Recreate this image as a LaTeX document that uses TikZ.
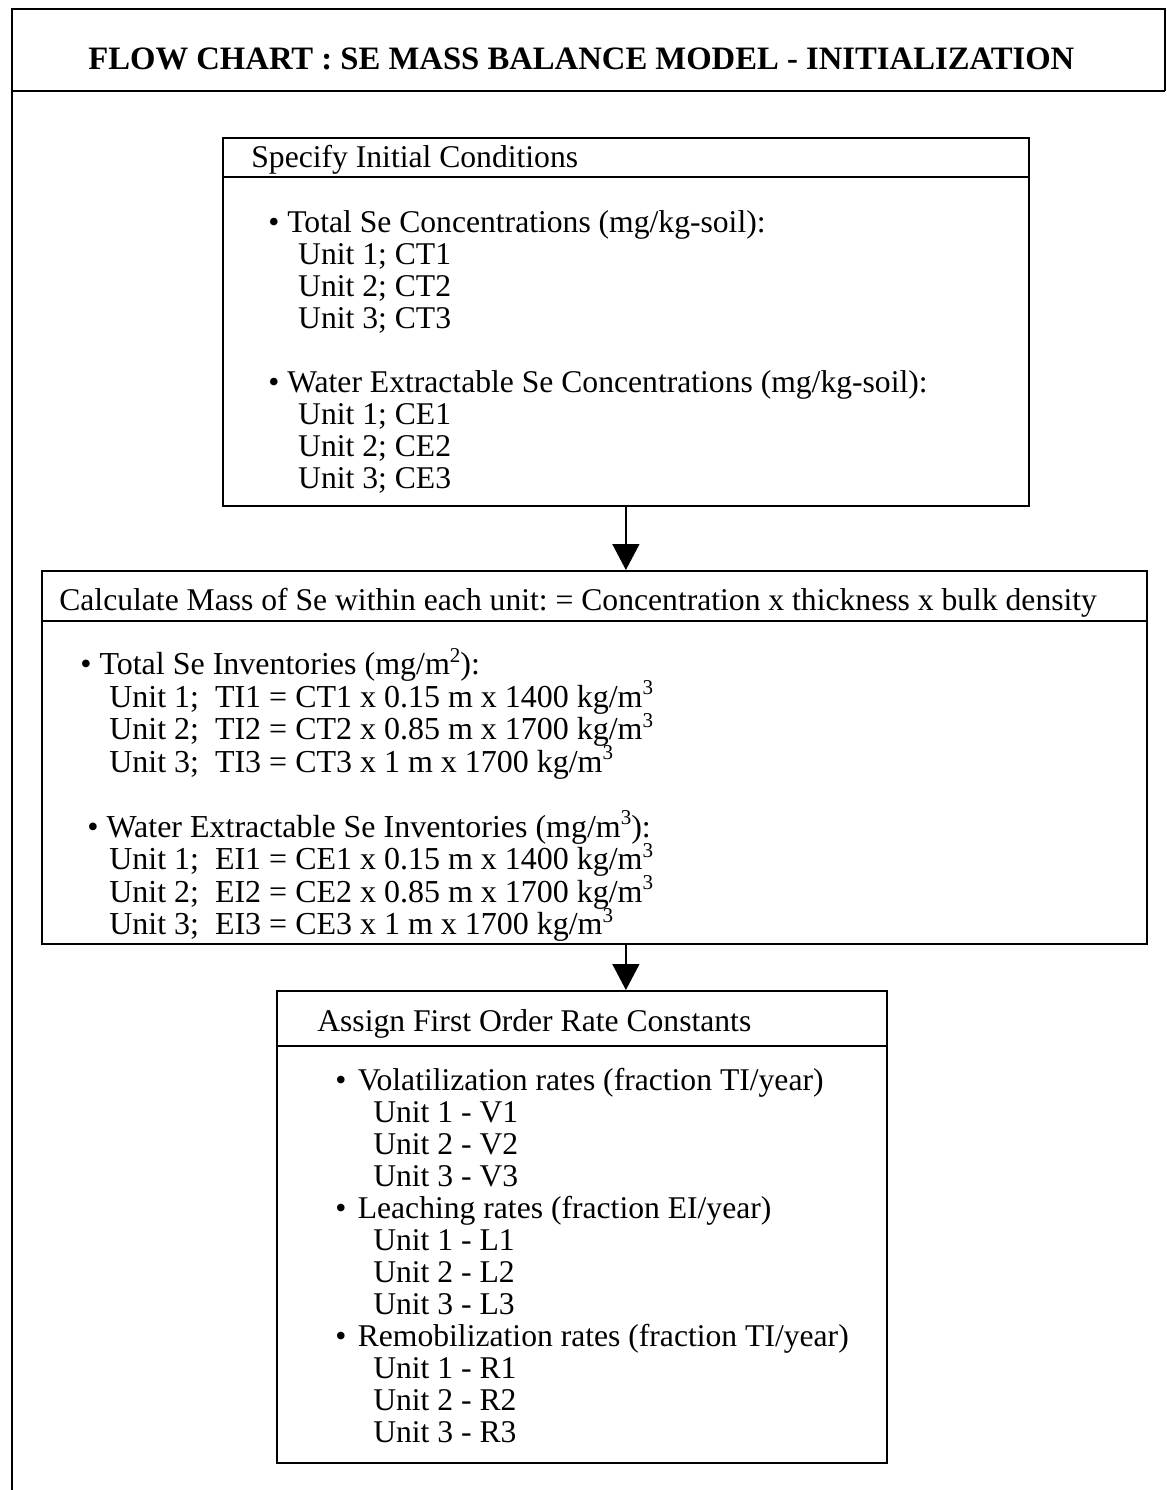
\documentclass[tikz,border=0pt]{standalone}
\usepackage{fontspec}
\setmainfont{Liberation Serif}
\usetikzlibrary{positioning, arrows.meta}
\newcommand{\supr}[1]{\raisebox{7pt}{\fontsize{12pt}{12pt}\selectfont #1}}

\begin{document}
\frenchspacing
\lineskiplimit=-20pt
\begin{tikzpicture}[
      x=0.02cm, y=-0.02cm,
      every node/.style={font=\fontsize{18pt}{18.2pt}\selectfont},
      panel/.style={rectangle, draw, line width=1.1pt, anchor=north west, inner sep=0pt},
      txt/.style={anchor=north west, inner sep=0pt, align=left},
      rule/.style={line width=1.1pt},
      arr/.style={-{Triangle[length=0.52cm, width=0.54cm]}, line width=0.9pt},
    ]
    \useasboundingbox (0,0) rectangle (1166,1490);

    % frame and title
    \draw[line width=1pt] (12,1490) -- (12,9) -- (1165,9) -- (1165,91);
    \draw[line width=1pt] (12,91) -- (1165,91);
    \node[anchor=base west, inner sep=0pt, font=\fontsize{18.6pt}{20pt}\selectfont\bfseries]
      (title) at (88,70) {FLOW CHART : SE MASS BALANCE MODEL - INITIALIZATION};

    % initial conditions
    \node[panel, minimum width=16.12cm, minimum height=7.36cm] (init) at (222,137) {};
    \draw[rule] (init.west |- 0,177) -- (init.east |- 0,177);
    \node[txt] (inithead) at (251,145) {Specify Initial Conditions};
    \node[txt] (initbody) at (268,210) {\textbullet\ Total Se Concentrations (mg/kg-soil):\\
      \hspace*{17pt}Unit 1; CT1\\
      \hspace*{17pt}Unit 2; CT2\\
      \hspace*{17pt}Unit 3; CT3\\[18.2pt]
      \textbullet\ Water Extractable Se Concentrations (mg/kg-soil):\\
      \hspace*{17pt}Unit 1; CE1\\
      \hspace*{17pt}Unit 2; CE2\\
      \hspace*{17pt}Unit 3; CE3};

    % mass of Se
    \node[panel, minimum width=22.1cm, minimum height=7.46cm] (calc) at (41,570) {};
    \draw[rule] (calc.west |- 0,621) -- (calc.east |- 0,621);
    \node[txt] (calchead) at (59,588) {Calculate Mass of Se within each unit: = Concentration x thickness x bulk density};
    \node[txt, font=\fontsize{18.2pt}{18.5pt}\selectfont]
      (calcbody) at (80,648) {\textbullet\ Total Se Inventories (mg/m\supr{2}):\\
      \hspace*{16.5pt}Unit 1;\ \ TI1 = CT1 x 0.15 m x 1400 kg/m\supr{3}\\
      \hspace*{16.5pt}Unit 2;\ \ TI2 = CT2 x 0.85 m x 1700 kg/m\supr{3}\\
      \hspace*{16.5pt}Unit 3;\ \ TI3 = CT3 x 1 m x 1700 kg/m\supr{3}\\[18.5pt]
      \hspace*{4pt}\textbullet\ Water Extractable Se Inventories (mg/m\supr{3}):\\
      \hspace*{16.5pt}Unit 1;\ \ EI1 = CE1 x 0.15 m x 1400 kg/m\supr{3}\\
      \hspace*{16.5pt}Unit 2;\ \ EI2 = CE2 x 0.85 m x 1700 kg/m\supr{3}\\
      \hspace*{16.5pt}Unit 3;\ \ EI3 = CE3 x 1 m x 1700 kg/m\supr{3}};

    % rate constants
    \node[panel, minimum width=12.2cm, minimum height=9.44cm] (rates) at (276,990) {};
    \draw[rule] (rates.west |- 0,1046) -- (rates.east |- 0,1046);
    \node[txt] (rateshead) at (317,1009) {Assign First Order Rate Constants};
    \node[txt] (ratesbody) at (335,1068) {\textbullet\hspace{6.5pt}Volatilization rates (fraction TI/year)\\
      \hspace*{21.6pt}Unit 1 - V1\\
      \hspace*{21.6pt}Unit 2 - V2\\
      \hspace*{21.6pt}Unit 3 - V3\\
      \textbullet\hspace{6.5pt}Leaching rates (fraction EI/year)\\
      \hspace*{21.6pt}Unit 1 - L1\\
      \hspace*{21.6pt}Unit 2 - L2\\
      \hspace*{21.6pt}Unit 3 - L3\\
      \textbullet\hspace{6.5pt}Remobilization rates (fraction TI/year)\\
      \hspace*{21.6pt}Unit 1 - R1\\
      \hspace*{21.6pt}Unit 2 - R2\\
      \hspace*{21.6pt}Unit 3 - R3};

    \draw[arr] (init.south) -- (init.south |- calc.north);
    \draw[arr] (init.south |- calc.south) -- (init.south |- rates.north);
  \end{tikzpicture}
\end{document}
